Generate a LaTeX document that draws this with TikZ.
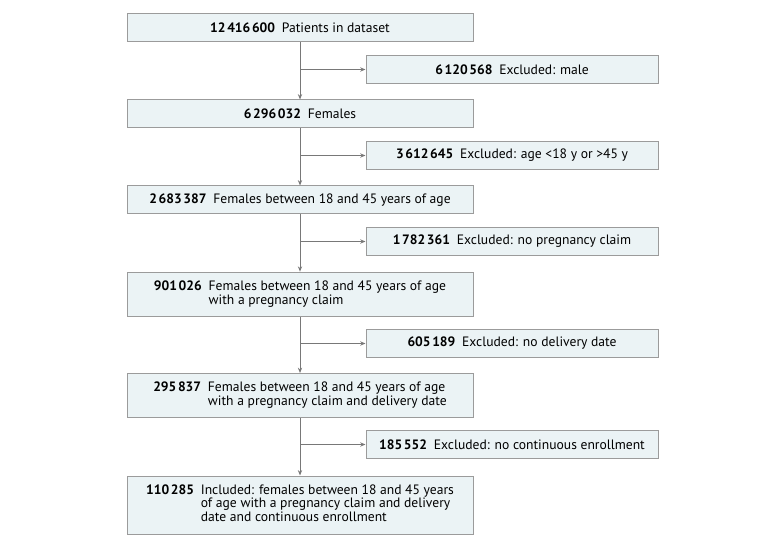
\documentclass[tikz,border=0pt]{standalone}
\usepackage{fontspec}
\setmainfont{PT Sans}
\usetikzlibrary{arrows.meta}
\definecolor{boxfill}{RGB}{235,243,245}
\definecolor{boxline}{RGB}{155,155,155}
\definecolor{conn}{RGB}{120,120,120}
\newcommand{\nb}[1]{\textbf{#1}}
\newcommand{\ts}{\kern0.12em}
\tikzset{
  mainbox/.style={draw=boxline, fill=boxfill, line width=0.75pt, minimum width=259.5pt, inner sep=0pt, align=left, font=\fontsize{10.2}{9.4}\selectfont},
  exbox/.style={draw=boxline, fill=boxfill, line width=0.75pt, minimum width=219pt, minimum height=21pt, inner sep=0pt, font=\fontsize{10.2}{9.4}\selectfont},
  flow/.style={draw=conn, line width=0.7pt, -{Stealth[length=4pt,width=3.2pt]}}
}
\begin{document}
\begin{tikzpicture}[x=0.75pt,y=-0.75pt]
\useasboundingbox (0,0) rectangle (780,548);
\node[mainbox, minimum height=21pt] (b1) at (300,28) {\nb{12\ts416\ts600}\enspace Patients in dataset};
\node[mainbox, minimum height=21pt] (b2) at (300,114) {\nb{6\ts296\ts032}\enspace Females};
\node[mainbox, minimum height=21pt] (b3) at (300,200) {\nb{2\ts683\ts387}\enspace Females between 18 and 45 years of age};
\node[mainbox, minimum height=33.5pt] (b4) at (300,294.5) {\begin{tabular}{@{}r@{\enspace}l@{}}\nb{901\ts026} & Females between 18 and 45 years of age\\ & with a pregnancy claim\end{tabular}};
\node[mainbox, minimum height=33pt] (b5) at (300,395.5) {\begin{tabular}{@{}r@{\enspace}l@{}}\nb{295\ts837} & Females between 18 and 45 years of age\\ & with a pregnancy claim and delivery date\end{tabular}};
\node[mainbox, minimum height=43.5pt] (b6) at (300,505) {\begin{tabular}{@{}r@{\enspace}l@{}}\nb{110\ts285} & Included: females between 18 and 45 years\\ & of age with a pregnancy claim and delivery\\ & date and continuous enrollment\end{tabular}};
\node[exbox] (e1) at (512,69.5) {\nb{6\ts120\ts568}\enspace Excluded: male};
\node[exbox] (e2) at (512,155.5) {\nb{3\ts612\ts645}\enspace Excluded: age <18 y or >45 y};
\node[exbox] (e3) at (512,241.5) {\nb{1\ts782\ts361}\enspace Excluded: no pregnancy claim};
\node[exbox] (e4) at (512,343.5) {\nb{605\ts189}\enspace Excluded: no delivery date};
\node[exbox] (e5) at (512,444.5) {\nb{185\ts552}\enspace Excluded: no continuous enrollment};
\foreach \a/\b/\e in {b1/b2/e1,b2/b3/e2,b3/b4/e3,b4/b5/e4,b5/b6/e5}{
  \draw[flow] (\a.south) -- (\b.north);
  \draw[flow] (\a.south |- \e.west) -- (\e.west);
}
\end{tikzpicture}
\end{document}
